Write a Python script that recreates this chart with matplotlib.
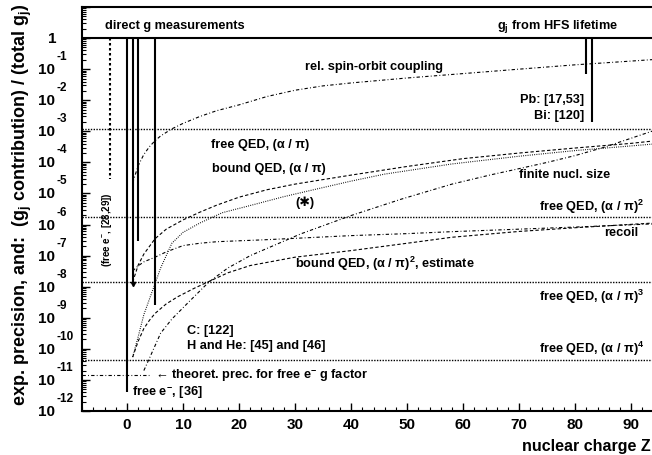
import matplotlib
import matplotlib.pyplot as plt
import matplotlib.transforms as mtransforms
from matplotlib.ticker import FixedLocator, MultipleLocator, NullFormatter

matplotlib.use("Agg")

plt.rcParams["font.family"] = ["Liberation Sans", "DejaVu Sans"]
plt.rcParams["font.weight"] = "bold"
plt.rcParams["mathtext.fontset"] = "custom"
plt.rcParams["mathtext.rm"] = "Liberation Sans:bold"
plt.rcParams["mathtext.bf"] = "Liberation Sans:bold"
plt.rcParams["mathtext.it"] = "Liberation Sans:bold"

# direct g measurements: Z and reached precision
meas_z = [0, 1, 2, 5]
meas_prec = [4.2e-12, 1.2e-8, 3.0e-7, 2.6e-9]
positron_z = -3
positron_prec = 3e-5
# g_j from HFS lifetime (Pb, Bi)
hfs_z = [82, 83]
hfs_prec = [0.069, 2.0e-3]

# free QED terms (alpha/pi)^1..4
free_qed = [1.18e-3, 1.8e-6, 1.46e-8, 4.5e-11]
theo_prec = 1.4e-11
theo_prec_z = [-8, 4]

# rel. spin-orbit coupling
so_z = [1, 2, 3, 4, 5, 6, 8, 10, 13, 16, 20, 25, 30, 35, 40, 50, 60, 70, 80, 90, 94]
so_val = [2.2e-5, 7.9e-5, 1.8e-4, 3.2e-4, 5.0e-4, 7.1e-4, 1.2e-3, 1.8e-3, 3.0e-3,
          4.6e-3, 7.1e-3, 0.0132, 0.021, 0.029, 0.036, 0.052, 0.072, 0.100, 0.138,
          0.182, 0.204]

# bound QED, (alpha/pi)
bq1_z = [1, 2, 3, 5, 7, 10, 13, 16, 20, 25, 30, 35, 40, 50, 60, 70, 80, 90, 94]
bq1_val = [1.4e-8, 5.0e-8, 1.12e-7, 3.5e-7, 7.1e-7, 1.41e-6, 2.5e-6, 4.2e-6,
           7.6e-6, 1.32e-5, 2.0e-5, 2.8e-5, 3.9e-5, 7.4e-5, 1.32e-4, 2.0e-4,
           2.9e-4, 4.1e-4, 4.9e-4]

# (*) curve
star_z = [1, 2, 3, 4, 5, 6, 8, 10, 13, 17, 22, 28, 34, 40, 46, 58, 70, 80, 94]
star_val = [5.5e-11, 2.5e-10, 1.26e-9, 4.0e-9, 1.26e-8, 4.0e-8, 2.5e-7, 5.6e-7,
            1.12e-6, 2.4e-6, 4.1e-6, 7.9e-6, 1.41e-5, 2.5e-5, 4.2e-5, 8.9e-5,
            1.58e-4, 2.4e-4, 3.9e-4]

# finite nuclear size
fns_z = [3, 4, 6, 8, 11, 14.6, 18, 22, 31, 40, 49, 58, 65, 70, 75, 80, 85, 90, 94]
fns_val = [2.0e-11, 5.0e-11, 3.2e-10, 9.1e-10, 3.2e-9, 1.41e-8, 4.0e-8, 1.0e-7,
           5.0e-7, 1.95e-6, 6.6e-6, 2.0e-5, 4.0e-5, 6.3e-5, 1.0e-4, 1.66e-4,
           3.0e-4, 6.0e-4, 1.05e-3]

# bound QED, (alpha/pi)^2, estimate
bq2_z = [1, 2, 3, 4, 5, 7, 9, 12, 15, 18, 22, 30, 40, 50, 58, 70, 80, 94]
bq2_val = [5.4e-11, 1.78e-10, 4.5e-10, 8.3e-10, 1.38e-9, 2.8e-9, 4.7e-9, 8.9e-9,
           1.58e-8, 2.8e-8, 4.8e-8, 8.9e-8, 1.45e-7, 2.5e-7, 3.9e-7, 6.0e-7,
           7.9e-7, 1.12e-6]

# recoil
rec_z = [1, 2, 3, 5, 7, 10, 13, 16, 20, 24, 30, 40, 50, 58, 70, 80, 94]
rec_val = [3.2e-8, 4.7e-8, 6.3e-8, 8.9e-8, 1.32e-7, 2.1e-7, 2.5e-7, 2.8e-7,
           3.0e-7, 3.2e-7, 3.6e-7, 4.4e-7, 5.1e-7, 5.9e-7, 7.1e-7, 8.3e-7,
           1.05e-6]

DASH = (0, (3, 2))
DASHDOT = (0, (3, 2, 0.8, 2))
DOT = (0, (0.8, 1.2))
FINE = (0, (1, 1))

fig = plt.figure(figsize=(6.52, 4.56), dpi=100)
ax = fig.add_axes([82 / 652, 44 / 456, 575 / 652, 404 / 456])
ax.set_yscale("log")
ax.set_xlim(-8.04, 94.6)
ax.set_ylim(1e-12, 10)

# measurements
ax.axhline(1, color="black", lw=1.5)
for z, p in zip(meas_z, meas_prec):
    ax.plot([z, z], [1, p], color="black", lw=1.5, solid_capstyle="butt")
ax.plot(meas_z[1], meas_prec[1], marker="v", color="black", ms=3)
ax.plot([positron_z, positron_z], [1, positron_prec], color="black", lw=1.5,
        linestyle=(0, (1.2, 1.2)))
for z, p in zip(hfs_z, hfs_prec):
    ax.plot([z, z], [1, p], color="black", lw=1.5, solid_capstyle="butt")

# free QED levels
for v in free_qed:
    ax.axhline(v, color="black", lw=1.0, linestyle=FINE)
ax.plot(theo_prec_z, [theo_prec, theo_prec], color="black", lw=0.8, linestyle=DASHDOT)

# curves
ax.plot(so_z, so_val, color="black", lw=0.8, linestyle=DASHDOT)
ax.plot(bq1_z, bq1_val, color="black", lw=0.8, linestyle=DASH)
ax.plot(star_z, star_val, color="black", lw=0.8, linestyle=DOT)
ax.plot(fns_z, fns_val, color="black", lw=0.8, linestyle=DASHDOT)
ax.plot(bq2_z, bq2_val, color="black", lw=0.8, linestyle=DASH)
ax.plot(rec_z, rec_val, color="black", lw=0.8, linestyle=DASHDOT)

fs = 9.2
ax.text(-3.9, 2.6, "direct g measurements", fontsize=fs, va="center")
ax.text(66.1, 2.6, r"g$_\mathregular{j}$ from HFS lifetime", fontsize=fs, va="center")
ax.text(31.8, 0.126, "rel. spin-orbit coupling", fontsize=fs, va="center")
ax.text(81.6, 0.011, "Pb: [17,53]", fontsize=fs, va="center", ha="right")
ax.text(81.6, 3.3e-3, "Bi: [120]", fontsize=fs, va="center", ha="right")
ax.text(15, 3.9e-4, "free QED, (α / π)", fontsize=fs, va="center")
ax.text(15.2, 6.6e-5, "bound QED, (α / π)", fontsize=fs, va="center")
ax.text(30, 5.3e-6, "(✱)", fontsize=fs, va="center")
ax.text(70, 4.2e-5, "finite nucl. size", fontsize=fs, va="center")
ax.text(92.3, 4.0e-6, r"free QED, (α / π)$^\mathregular{2}$", fontsize=fs,
        va="center", ha="right")
ax.text(91.2, 5.8e-7, "recoil", fontsize=fs, va="center", ha="right")
ax.text(30, 5.8e-8, r"bound QED, (α / π)$^\mathregular{2}$, estimate", fontsize=fs, va="center")
ax.text(92.3, 5e-9, r"free QED, (α / π)$^\mathregular{3}$", fontsize=fs,
        va="center", ha="right")
ax.text(92.3, 1.07e-10, r"free QED, (α / π)$^\mathregular{4}$", fontsize=fs,
        va="center", ha="right")
ax.text(10.7, 4.1e-10, "C: [122]", fontsize=fs, va="center")
ax.text(10.7, 1.35e-10, "H and He: [45] and [46]", fontsize=fs, va="center")
ax.text(5, 1.45e-11, r"← theoret. prec. for free e$^\mathregular{-}$ g factor",
        fontsize=fs, va="center")
ax.text(0.9, 4.2e-12, r"free e$^\mathregular{-}$, [36]", fontsize=fs, va="center")
ax.text(-3.6, 7.2e-7, r"(free e$^\mathregular{-}$, [28,29])", fontsize=7, va="center",
        ha="center", rotation=90)

# axes styling
for s in ax.spines.values():
    s.set_linewidth(1.5)
ax.xaxis.set_minor_locator(MultipleLocator(2))
ax.set_xticks(range(0, 100, 10))
ax.set_xticklabels([str(v) for v in range(0, 100, 10)], fontsize=11, fontweight="bold")
decades = list(range(-12, 1))
ax.yaxis.set_major_locator(FixedLocator([10.0 ** k for k in decades] + [10.0]))
ax.yaxis.set_minor_locator(FixedLocator(
    [m * 10.0 ** k for k in range(-12, 1) for m in range(2, 10)]))
ax.yaxis.set_major_formatter(NullFormatter())
ax.yaxis.set_minor_formatter(NullFormatter())
ax.tick_params(which="major", direction="in", length=6, width=1, pad=4)
ax.tick_params(which="minor", direction="in", length=3, width=0.8)

ytr = ax.get_yaxis_transform()
up = mtransforms.ScaledTranslation(0, 13 / 100, fig.dpi_scale_trans)
for k in decades:
    if k == 0:
        ax.text(-0.044, 1, "1", transform=ytr, ha="right", va="center",
                fontsize=11, clip_on=False)
    else:
        ax.text(-0.047, 10.0 ** k, "10", transform=ytr, ha="right", va="center",
                fontsize=11, clip_on=False)
        ax.text(-0.044, 10.0 ** k, str(k), transform=ytr + up, ha="left",
                va="center", fontsize=8.5, clip_on=False)

fig.text(651 / 652, 1 - 447 / 456, "nuclear charge Z", fontsize=11.5,
         ha="right", va="center")
fig.text(22 / 652, 1 - 4 / 456,
         r"exp. precision, and:  (g$_\mathregular{j}$ contribution) / (total g$_\mathregular{j}$)",
         fontsize=13, rotation=90, ha="center", va="top")

fig.savefig("out.png", dpi=100)
